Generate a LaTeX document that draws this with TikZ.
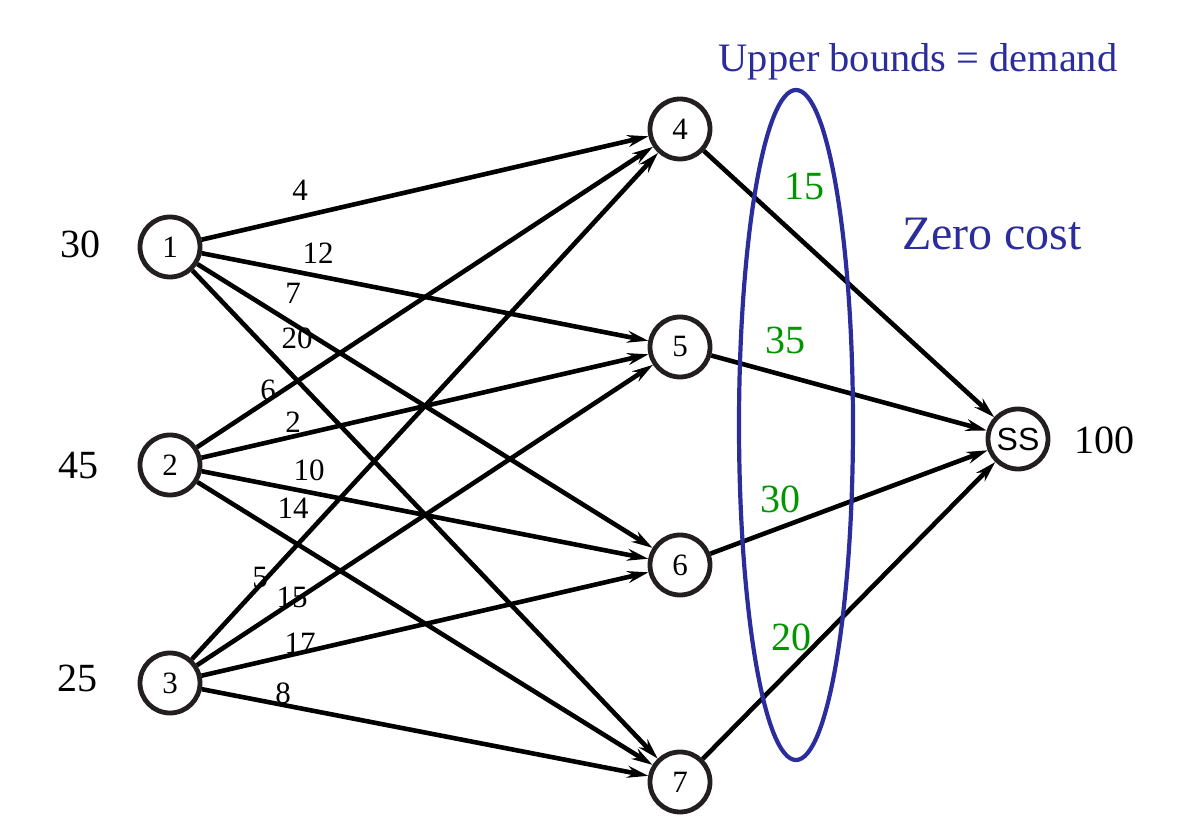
\documentclass[tikz,border=0pt]{standalone}
\usepackage{fontspec}
\setmainfont{Liberation Serif}
\newfontfamily\sansnode{Liberation Sans}
\usetikzlibrary{arrows.meta}
\definecolor{ringcol}{RGB}{35,31,32}
\definecolor{boundblue}{RGB}{42,45,155}
\definecolor{capgreen}{RGB}{0,150,0}
\begin{document}
\begin{tikzpicture}[x=0.5pt,y=-0.5pt,
  vert/.style={circle,draw=ringcol,line width=2.4pt,minimum size=30pt,inner sep=0pt,
    font=\fontsize{15.5}{15.5}\selectfont},
  flow/.style={line width=2.3pt,-{Stealth[length=10.5pt,width=6pt,inset=3.5pt]}},
  cost/.style={font=\fontsize{15.5}{15.5}\selectfont,inner sep=0pt},
  supply/.style={font=\fontsize{20}{20}\selectfont,inner sep=0pt},
  boundlabel/.style={font=\fontsize{20}{20}\selectfont,text=capgreen,inner sep=0pt}]
\useasboundingbox (0,0) rectangle (1195,839);

% sources, transshipment nodes and super sink
\node[vert] (n1) at (170,247) {1};
\node[vert] (n2) at (170,465) {2};
\node[vert] (n3) at (170,683) {3};
\node[vert] (n4) at (680,129) {4};
\node[vert] (n5) at (680,347) {5};
\node[vert] (n6) at (680,565) {6};
\node[vert] (n7) at (680,782) {7};
\node[vert,font=\sansnode\fontsize{16}{16}\selectfont] (ss) at (1018,439) {SS};

% supplies and total demand
\node[supply] (s1) at (81,244) {30};
\node[supply] (s2) at (78,466) {45};
\node[supply] (s3) at (77,678) {25};
\node[supply] (tot) at (1104,440) {100};

% arcs from sources
\foreach \s in {1,2,3}
  \foreach \t in {4,5,6,7}
    \draw[flow] (n\s) -- (n\t);

% arcs into the super sink
\foreach \t in {4,5,6,7}
  \draw[flow] (n\t) -- (ss);

% arc costs
\node[cost] (c14) at (300,190) {4};
\node[cost] (c15) at (318,253) {12};
\node[cost] (c16) at (293,293) {7};
\node[cost] (c17) at (297,338) {20};
\node[cost] (c24) at (268,390) {6};
\node[cost] (c25) at (293,422) {2};
\node[cost] (c26) at (309,470) {10};
\node[cost] (c27) at (293,508) {14};
\node[cost] (c34) at (260,578) {5};
\node[cost] (c35) at (292,597) {15};
\node[cost] (c36) at (300,643) {17};
\node[cost] (c37) at (283,693) {8};

% upper bounds on the sink arcs
\draw[boundblue,line width=2.1pt] (796,425) ellipse [x radius=57,y radius=335];
\node[boundlabel] (u4) at (804,186) {15};
\node[boundlabel] (u5) at (785,340) {35};
\node[boundlabel] (u6) at (780,499) {30};
\node[boundlabel] (u7) at (791,637) {20};

\node[anchor=base,text=boundblue,inner sep=0pt,font=\fontsize{20.2}{20.2}\selectfont] (ub) at (918,72) {Upper bounds = demand};
\node[anchor=base,text=boundblue,inner sep=0pt,font=\fontsize{24}{24}\selectfont] (zc) at (992,250) {Zero cost};
\end{tikzpicture}
\end{document}
